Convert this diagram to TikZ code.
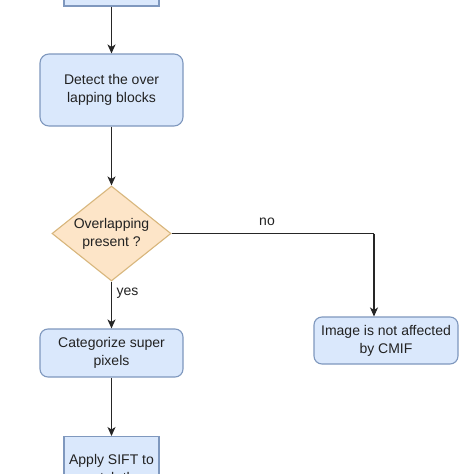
\documentclass[tikz,border=0pt]{standalone}
\usepackage{fontspec}
\setmainfont{Liberation Sans}
\usetikzlibrary{shapes.geometric,arrows.meta}
\definecolor{bfill}{HTML}{DAE8FC}
\definecolor{bline}{HTML}{7F98BE}
\definecolor{ofill}{HTML}{FDE5C8}
\definecolor{oline}{HTML}{D8B67C}
\definecolor{txt}{HTML}{222222}
\begin{document}
\begin{tikzpicture}[x=1pt,y=-1pt,
  box/.style={draw=bline,fill=bfill,line width=1.1pt,inner sep=0pt,
    align=center,text=txt,font=\fontsize{14}{18}\selectfont},
  rbox/.style={box,rounded corners=9pt},
  dec/.style={diamond,draw=oline,fill=ofill,line width=1.1pt,inner sep=0pt,
    aspect=1.25,align=center,text=txt,font=\fontsize{14}{18}\selectfont},
  lbl/.style={text=txt,font=\fontsize{14}{18}\selectfont,inner sep=0pt},
  conn/.style={draw=black!85,line width=1.1pt},
  arr/.style={conn,-{Stealth[length=9pt,width=8pt,inset=2.5pt]}}]
\useasboundingbox (0,0) rectangle (474,474);
\clip (0,0) rectangle (474,474);
\fill[white] (0,0) rectangle (474,474);
\node[box,minimum width=95pt,minimum height=52pt] (top) at (111.5,-20) {};
\node[rbox,minimum width=143pt,minimum height=72pt] (detect) at (111.5,90) {Detect the over\\lapping blocks};
\node[dec,minimum width=119pt,minimum height=95pt] (dia) at (111.5,233.5) {Overlapping\\present ?};
\node[rbox,rounded corners=8pt,minimum width=143pt,minimum height=48pt] (cat) at (111.5,353) {Categorize super\\pixels};
\node[rbox,rounded corners=8pt,minimum width=144pt,minimum height=47pt] (img) at (386,340.5) {Image is not affected\\by CMIF};
\node[box,anchor=north,minimum width=95pt,inner ysep=18pt] (sift) at (111.5,436) {Apply SIFT to\\match the};
\coordinate (corner) at (374,233.5);
\draw[arr] (top.south) -- (detect.north);
\draw[arr] (detect.south) -- (dia.north);
\draw[conn] (dia.east) -- (corner);
\draw[arr] (corner) -- (corner |- img.north);
\draw[arr] (dia.south) -- (cat.north);
\draw[arr] (cat.south) -- (sift.north);
\node[lbl] (no) at (267,222) {no};
\node[lbl] (yes) at (127.5,293) {yes};
\end{tikzpicture}
\end{document}
